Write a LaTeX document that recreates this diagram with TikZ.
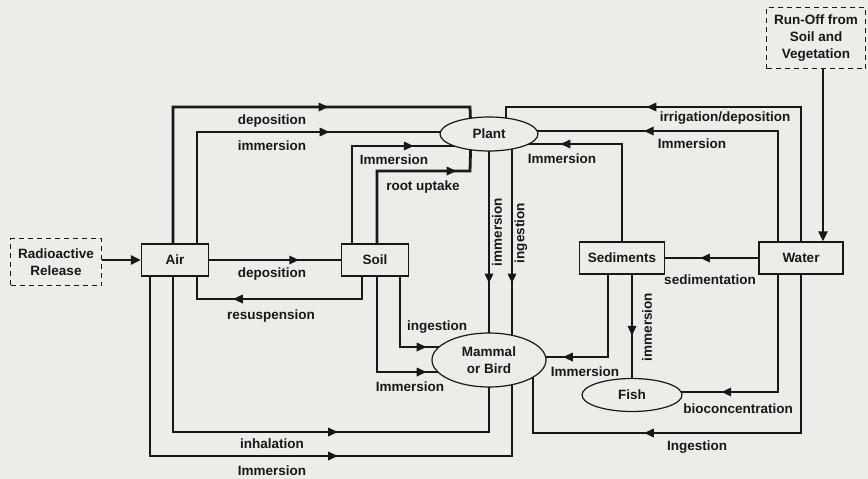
\documentclass[tikz,border=0pt]{standalone}
\usepackage{fontspec}
\setmainfont{Liberation Sans}
\usepackage{tikz}
\usetikzlibrary{arrows.meta,positioning,calc,shapes.geometric,backgrounds}
\definecolor{paper}{RGB}{236,236,233}
\definecolor{ink}{RGB}{24,24,24}

\begin{document}
\begin{tikzpicture}[
  x=1pt, y=-1pt,
  every node/.style={font=\bfseries\fontsize{13.5}{17}\selectfont, text=ink},
  box/.style={draw=ink, line width=1.3pt, fill=paper, align=center, inner sep=0pt},
  source/.style={box, dash pattern=on 5pt off 4pt},
  pool/.style={ellipse, draw=ink, line width=1.2pt, fill=paper, align=center, inner sep=0pt},
  flow/.style={draw=ink, line width=2.8pt},
  tip/.style={isosceles triangle, isosceles triangle apex angle=50, fill=ink, draw=none, inner sep=0pt, minimum size=9pt},
  tipR/.style={tip, shape border rotate=0},
  tipL/.style={tip, shape border rotate=180},
  tipD/.style={tip, shape border rotate=-90},
  lbl/.style={inner sep=0pt},
  endtip/.style={-{Triangle[length=10pt,width=9pt]}},
]
% compartments
\node[source, minimum width=91pt, minimum height=47pt] (release) at (56,262) {Radioactive\\Release};
\node[box, minimum width=67pt, minimum height=32pt] (air) at (175,260) {Air};
\node[box, minimum width=67pt, minimum height=32pt] (soil) at (375,260) {Soil};
\node[pool, minimum width=98pt, minimum height=34pt] (plant) at (489,134) {Plant};
\node[pool, minimum width=114pt, minimum height=54pt] (mammal) at (489,360) {Mammal\\or Bird};
\node[box, minimum width=85pt, minimum height=32pt] (sediments) at (622,258) {Sediments};
\node[box, minimum width=84pt, minimum height=32pt] (water) at (801,258) {Water};
\node[pool, minimum width=100pt, minimum height=33pt] (fish) at (632,395) {Fish};
\node[source, minimum width=99pt, minimum height=61pt] (runoff) at (816,38) {Run-Off from\\Soil and\\Vegetation};

% pathway labels
\node[lbl] (lDepTop) at (272,121) {deposition};
\node[lbl] (lImmTop) at (272,146) {immersion};
\node[lbl] (lImmSoil) at (394,160) {Immersion};
\node[lbl] (lRoot) at (423,187) {root uptake};
\node[lbl] (lImmSed) at (562,159) {Immersion};
\node[lbl] (lIrr) at (725,118) {irrigation/deposition};
\node[lbl] (lImmWat) at (692,144) {Immersion};
\node[lbl] (lDepAir) at (272,274) {deposition};
\node[lbl] (lResus) at (271,316) {resuspension};
\node[lbl, rotate=90] (lImmPM) at (497,232) {immersion};
\node[lbl, rotate=90] (lIngPM) at (521,233) {ingestion};
\node[lbl] (lSed) at (710,280) {sedimentation};
\node[lbl] (lIngSoil) at (437,327) {ingestion};
\node[lbl] (lImmSoilM) at (410,387) {Immersion};
\node[lbl] (lImmSedM) at (585,372) {Immersion};
\node[lbl, rotate=90] (lImmFish) at (647,327) {immersion};
\node[lbl] (lBio) at (738,409) {bioconcentration};
\node[lbl] (lInh) at (272,444) {inhalation};
\node[lbl] (lImmBot) at (272,471) {Immersion};
\node[lbl] (lIngBot) at (697,447) {Ingestion};

\begin{scope}[on background layer]
\fill[paper] (0,0) rectangle (868,479);
% into air and water
\draw[flow, endtip] (release.east |- air) -- (air.west);
\draw[flow, endtip] ([xshift=7pt]runoff.south) -- ([xshift=7pt]runoff.south |- water.north);
% to plant
\draw[flow] ([xshift=-2pt]air.north) -- (173,107) -- node[tipR]{} (470,107) -- ([xshift=-18pt]plant.center);
\draw[flow] ([xshift=22pt]air.north) -- (197,132) -- node[tipR,pos=.43]{} (plant.center |- 0,132);
\draw[flow] ([xshift=-23pt]soil.north) -- (352,146) -- node[tipR,pos=.40]{} (plant.center |- 0,146);
\draw[flow] ([xshift=2pt]soil.north) -- (377,171) -- node[tipR,pos=.78]{} (470,171) -- ([xshift=-18pt]plant.center);
\draw[flow] (water.north) -- (801,107) -- node[tipL]{} (506,107) -- ([xshift=17pt]plant.center);
\draw[flow] ([xshift=-23pt]water.north) -- (778,131) -- node[tipL,pos=.44]{} (plant.center |- 0,131);
\draw[flow] (sediments.north) -- (622,144) -- node[tipL,pos=.41]{} (plant.center |- 0,144);
% air and soil
\draw[flow] (air.east) -- node[tipR,pos=.63]{} (soil.west);
\draw[flow] ([xshift=-13pt]soil.south) -- (362,299) -- node[tipL,pos=.74]{} (197,299) -- ([xshift=22pt]air.south);
% to mammal or bird
\draw[flow] ([xshift=-2pt]air.south) -- (173,432) -- node[tipR]{} (489,432) -- (mammal.center);
\draw[flow] ([xshift=-25pt]air.south) -- (150,456) -- node[tipR]{} (512,456) -- ([xshift=23pt]mammal.center);
\draw[flow] ([xshift=25pt]soil.south) -- (400,347) -- node[tipR,pos=.22]{} (mammal.center |- 0,347);
\draw[flow] ([xshift=2pt]soil.south) -- (377,372) -- node[tipR,pos=.38]{} (mammal.center |- 0,372);
\draw[flow] (plant.center) -- node[tipD,pos=.63]{} (mammal.center);
\draw[flow] ([xshift=23pt]plant.center) -- node[tipD,pos=.63]{} ([xshift=23pt]mammal.center);
\draw[flow] ([xshift=-14pt]sediments.south) -- (608,357) -- node[tipL,pos=.32]{} (mammal.center |- 0,357);
\draw[flow] (water.south) -- (801,433) -- node[tipL,pos=.56]{} (533,433) -- ([xshift=44pt]mammal.center);
% water side
\draw[flow] (water) -- node[tipL,pos=.55]{} (sediments);
\draw[flow] ([xshift=10pt]sediments.south) -- node[tipD,pos=.45]{} (fish.center);
\draw[flow] ([xshift=-23pt]water.south) -- (778,392) -- node[tipL,pos=.34]{} (fish.center |- 0,392);
\end{scope}
\useasboundingbox (0,0) rectangle (868,479);
\end{tikzpicture}
\end{document}
